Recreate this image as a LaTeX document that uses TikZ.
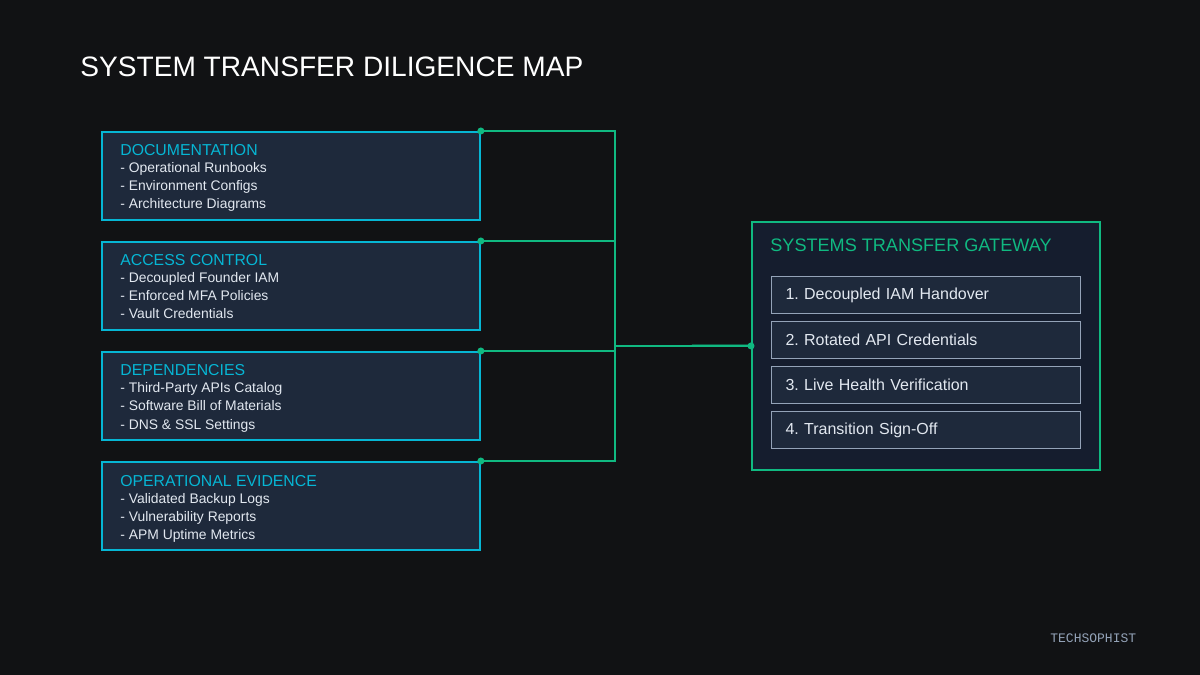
\documentclass[tikz,border=0pt]{standalone}
\usepackage{fontspec}
\setmainfont{Liberation Sans}
\newfontfamily\brandfont{Liberation Mono}
\frenchspacing
\definecolor{bgdark}{HTML}{111214}
\definecolor{panel}{HTML}{1E293B}
\definecolor{gwpanel}{HTML}{151D2E}
\definecolor{cyanline}{HTML}{06B6D4}
\definecolor{greenline}{HTML}{10B981}
\definecolor{slateline}{HTML}{94A3B8}
\definecolor{itemtext}{HTML}{E2E8F0}
\tikzset{
  srcbox/.style={draw=cyanline, fill=panel, line width=1.1pt, anchor=north west,
    minimum width=7.56cm, minimum height=1.76cm, inner sep=0pt},
  srchead/.style={text=cyanline, font=\fontsize{9.0}{11}\selectfont, anchor=base west, inner sep=0pt},
  srcitem/.style={text=itemtext, font=\fontsize{7.9}{10}\selectfont, anchor=base west, inner sep=0pt},
  gwbox/.style={draw=greenline, fill=gwpanel, line width=1.1pt, anchor=north west,
    minimum width=6.96cm, minimum height=4.96cm, inner sep=0pt},
  stepbox/.style={draw=slateline, fill=panel, line width=0.6pt, anchor=north west,
    text=itemtext, font=\fontsize{9.1}{11}\selectfont, text width=5.62cm, align=left,
    inner xsep=0.28cm, inner ysep=0pt, minimum height=0.74cm},
  link/.style={draw=greenline, line width=1.1pt},
}
\begin{document}
\begin{tikzpicture}[x=0.02cm, y=-0.02cm]
    \fill[bgdark] (0,0) rectangle (1200,675);
    \useasboundingbox (0,0) rectangle (1200,675);
    % title
    \node[anchor=base west, inner sep=0pt, text=white, font=\fontsize{16}{19}\selectfont] (title) at (80,77) {SYSTEM TRANSFER DILIGENCE MAP};
    % gateway
    \node[gwbox] (gw) at (751,221) {};
    \node[anchor=base west, inner sep=0pt, text=greenline, font=\fontsize{10.3}{12}\selectfont] (gw-h) at (770,252) {SYSTEMS TRANSFER GATEWAY};
    \foreach \k / \lab in {0/1. Decoupled IAM Handover, 1/2. Rotated API Credentials, 2/3. Live Health Verification, 3/4. Transition Sign-Off}
    {
        \node[stepbox] (step\k) at (771,276+45*\k) {\lab};
    }
    \coordinate (bus) at (615,346);
    % source boxes
    \foreach \y / \name / \head / \a / \b / \c in {
        131/doc/DOCUMENTATION/Operational Runbooks/Environment Configs/Architecture Diagrams,
        241/acc/ACCESS CONTROL/Decoupled Founder IAM/Enforced MFA Policies/Vault Credentials,
        351/dep/DEPENDENCIES/Third-Party APIs Catalog/Software Bill of Materials/DNS \& SSL Settings,
        461/ops/OPERATIONAL EVIDENCE/Validated Backup Logs/Vulnerability Reports/APM Uptime Metrics}
    {
        \node[srcbox] (\name) at (101,\y) {};
        \node[srchead] (\name-h) at (120,\y+25) {\head};
        \node[srcitem] (\name-a) at (120,\y+42) {- \a};
        \node[srcitem] (\name-b) at (120,\y+60) {- \b};
        \node[srcitem] (\name-c) at (120,\y+78) {- \c};
        \draw[link] (\name.north east) -| (bus) -- (gw.west);
        \fill[greenline] (\name.north east) circle (2pt);
    }
    \fill[greenline] (gw.west) circle (2pt);
    \node[anchor=base west, inner sep=0pt, text=slateline, font=\brandfont\fontsize{7.4}{9}\selectfont] (brand) at (1050,642) {TECHSOPHIST};
\end{tikzpicture}
\end{document}
